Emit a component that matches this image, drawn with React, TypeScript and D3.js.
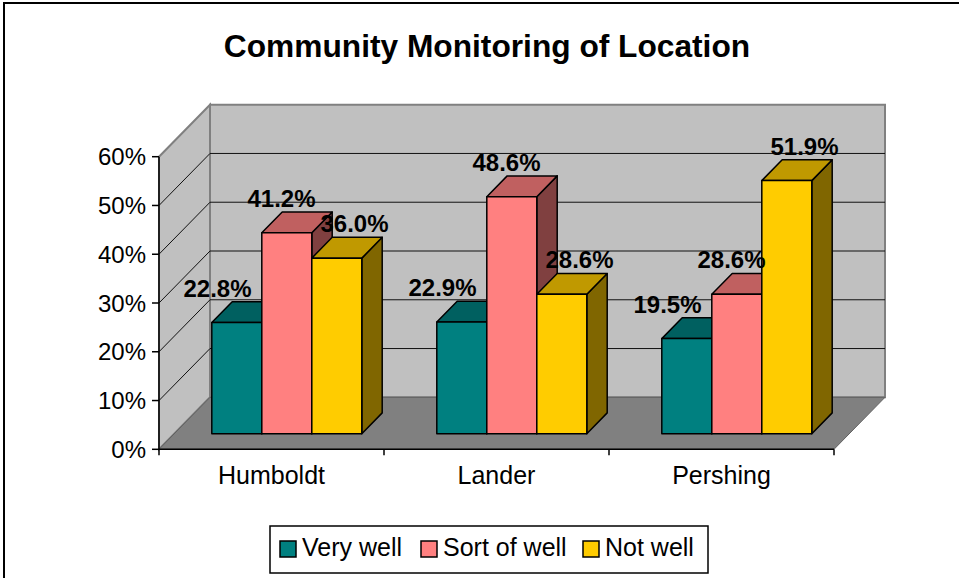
import React from "react";
import * as d3 from "d3";

const categories = ["Humboldt", "Lander", "Pershing"];
const seriesNames = ["Very well", "Sort of well", "Not well"];
const veryWell = [22.8, 22.9, 19.5];
const sortOfWell = [41.2, 48.6, 28.6];
const notWell = [36.0, 28.6, 51.9];
const yTicks = [0, 10, 20, 30, 40, 50, 60];

const values = [veryWell, sortOfWell, notWell];

// front, top, side shades for each series
const colors = [
  ["#008080", "#006060", "#004040"],
  ["#FF8080", "#C06060", "#804040"],
  ["#FFCC00", "#C09900", "#806600"],
];
// Excel nudges the labels around a bit
const labelShift = [-4, 10, 33];

const W = 959;
const H = 578;
const DX = 51; // depth offset of the back wall
const DY = 52;
const Z0 = 0.3; // bar front in depth
const Z1 = 0.7; // bar back
const FONT = "'Liberation Sans', Arial, sans-serif";

export default function App() {
  const x = d3.scaleBand().domain(categories).range([159, 834]).padding(0);
  const xs = d3
    .scaleBand()
    .domain(seriesNames)
    .range([0, x.bandwidth()])
    .paddingInner(0)
    .paddingOuter(0.75);
  const y = d3.scaleLinear().domain([0, 60]).range([449.3, 156.7]);

  const proj = (px: number, v: number, z: number): [number, number] => [px + z * DX, y(v) - z * DY];
  const pts = (arr: [number, number][]) => arr.map((p) => p.join(",")).join(" ");

  const [x0, x1] = x.range();
  const vMax = y.domain()[1];

  const leftWall = pts([proj(x0, 0, 0), proj(x0, vMax, 0), proj(x0, vMax, 1), proj(x0, 0, 1)]);
  const backWall = pts([proj(x0, 0, 1), proj(x0, vMax, 1), proj(x1, vMax, 1), proj(x1, 0, 1)]);
  const floor = pts([proj(x0, 0, 0), proj(x1, 0, 0), proj(x1, 0, 1), proj(x0, 0, 1)]);

  const bars: any[] = [];
  const labels: any[] = [];
  categories.forEach((cat, ci) => {
    seriesNames.forEach((s, si) => {
      const v = values[si][ci];
      const xl = (x(cat) as number) + (xs(s) as number);
      const xr = xl + xs.bandwidth();
      const [c, ct, cs] = colors[si];
      const fTL = proj(xl, v, Z0);
      const fBR = proj(xr, 0, Z0);
      bars.push(
        <g key={cat + s} stroke="#000" strokeWidth={1.5} strokeLinejoin="round">
          <polygon fill={cs} points={pts([proj(xr, v, Z0), proj(xr, v, Z1), proj(xr, 0, Z1), proj(xr, 0, Z0)])} />
          <polygon fill={ct} points={pts([proj(xl, v, Z0), proj(xr, v, Z0), proj(xr, v, Z1), proj(xl, v, Z1)])} />
          <rect x={fTL[0]} y={fTL[1]} width={fBR[0] - fTL[0]} height={fBR[1] - fTL[1]} fill={c} />
        </g>
      );
      labels.push(
        <text
          key={"l" + cat + s}
          x={(xl + xr) / 2 + labelShift[si]}
          y={fTL[1] - 26}
          textAnchor="middle"
          fontSize={24}
          fontWeight="bold"
        >
          {v.toFixed(1) + "%"}
        </text>
      );
    });
  });

  const legendX = [280, 421, 583];

  return (
    <svg
      width={W}
      height={H}
      style={{ position: "absolute", left: 0, top: 0, background: "#fff" }}
      fontFamily={FONT}
    >
      <rect x={4} y={3} width={W + 20} height={H + 20} fill="#fff" stroke="#000" strokeWidth={2} />
      <text x={487} y={57} textAnchor="middle" fontSize={31.7} fontWeight="bold">
        Community Monitoring of Location
      </text>

      {/* walls and floor */}
      <polygon points={leftWall} fill="#C0C0C0" stroke="#808080" strokeWidth={2} />
      <polygon points={backWall} fill="#C0C0C0" stroke="#808080" strokeWidth={2} />
      <polygon points={floor} fill="#808080" stroke="#606060" strokeWidth={1} />

      {yTicks
        .filter((t) => t > 0 && t < vMax)
        .map((t) => {
          const a = proj(x0, t, 0);
          const b = proj(x0, t, 1);
          const c = proj(x1, t, 1);
          return (
            <polyline
              key={"g" + t}
              points={pts([a, b, c])}
              fill="none"
              stroke="#111"
              strokeWidth={1}
            />
          );
        })}

      {/* value axis */}
      <line x1={x0} x2={x0} y1={y(0)} y2={y(vMax)} stroke="#000" strokeWidth={1.5} />
      {yTicks.map((t) => (
        <g key={"t" + t}>
          <line x1={x0 - 7} x2={x0} y1={y(t)} y2={y(t)} stroke="#000" strokeWidth={1.5} />
          <text x={146} y={y(t)} dy="0.36em" textAnchor="end" fontSize={24}>
            {t + "%"}
          </text>
        </g>
      ))}

      {/* category axis */}
      <line x1={x0} x2={x1} y1={y(0)} y2={y(0)} stroke="#000" strokeWidth={1.5} />
      {[...categories.map((c) => x(c) as number), x1].map((px, i) => (
        <line key={"ct" + i} x1={px} x2={px} y1={y(0)} y2={y(0) + 6} stroke="#000" strokeWidth={1.5} />
      ))}
      {categories.map((c) => (
        <text key={"cl" + c} x={(x(c) as number) + x.bandwidth() / 2} y={484} textAnchor="middle" fontSize={25}>
          {c}
        </text>
      ))}

      {bars}
      {labels}

      {/* legend */}
      <rect x={270} y={526} width={438} height={47} fill="#fff" stroke="#000" strokeWidth={1.5} />
      {seriesNames.map((s, i) => (
        <g key={"lg" + s}>
          <rect x={legendX[i]} y={541} width={16} height={16} fill={colors[i][0]} stroke="#000" strokeWidth={1.5} />
          <text x={legendX[i] + 22} y={556} fontSize={25}>
            {s}
          </text>
        </g>
      ))}
    </svg>
  );
}
